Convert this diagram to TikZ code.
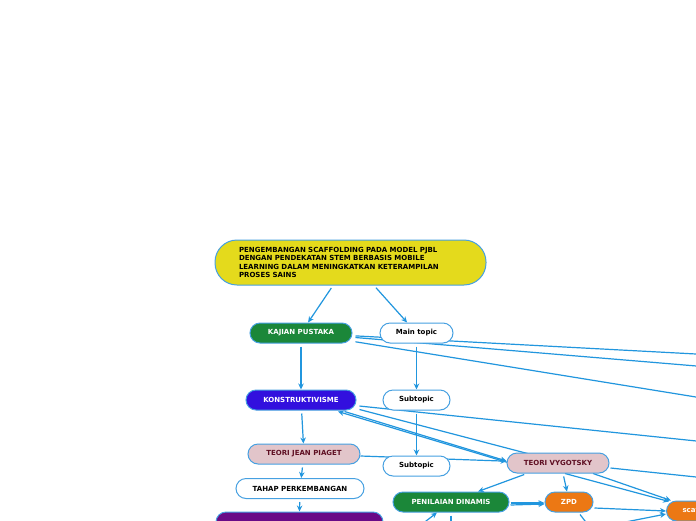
\documentclass[tikz,border=0pt]{standalone}
\usepackage{fontspec}
\setmainfont{DejaVu Sans}
\usetikzlibrary{arrows.meta,calc,backgrounds}
\definecolor{edgeblue}{RGB}{33,150,222}
\definecolor{bordblue}{RGB}{70,160,225}
\definecolor{ttlyellow}{RGB}{228,218,28}
\definecolor{nodegreen}{RGB}{27,135,57}
\definecolor{nodeviolet}{RGB}{50,16,222}
\definecolor{nodepink}{RGB}{226,197,202}
\definecolor{pinktext}{RGB}{95,15,35}
\definecolor{nodeorange}{RGB}{236,120,20}
\definecolor{nodepurple}{RGB}{105,10,135}
\tikzset{
  base/.style={draw=bordblue, line width=1pt, rounded corners=10pt, minimum height=20pt, inner sep=0pt, font=\fontsize{7}{8.4}\selectfont\bfseries},
  greenbox/.style={base, fill=nodegreen, text=white},
  violetbox/.style={base, fill=nodeviolet, text=white},
  orangebox/.style={base, fill=nodeorange, text=white},
  purplebox/.style={base, fill=nodepurple, text=white},
  whitebox/.style={base, fill=white, text=black},
  pinkbox/.style={base, fill=nodepink, text=pinktext},
  titlebox/.style={base, fill=ttlyellow, text=black, rounded corners=22pt, minimum height=45pt, text width=223pt, align=left, inner xsep=24pt},
  edge/.style={draw=edgeblue, line width=1.2pt, -{Stealth[length=6pt,width=5.5pt]}, shorten <=3pt},
  link/.style={draw=edgeblue, line width=1.2pt, shorten <=3pt},
}
\begin{document}
\begin{tikzpicture}[x=1pt,y=-1pt]
\useasboundingbox (0,0) rectangle (696,520);

\node[titlebox] (t) at (350.5,262.5) {PENGEMBANGAN SCAFFOLDING PADA MODEL PJBL\\DENGAN PENDEKATAN STEM BERBASIS MOBILE\\LEARNING DALAM MENINGKATKAN KETERAMPILAN\\PROSES SAINS};
\node[greenbox, minimum width=102pt] (kp) at (301,333) {KAJIAN PUSTAKA};
\node[whitebox, minimum width=73pt] (mt) at (416.5,333) {Main topic};
\node[violetbox, minimum width=110pt] (ks) at (301,400) {KONSTRUKTIVISME};
\node[whitebox, minimum width=67pt] (s1) at (416.5,400) {Subtopic};
\node[pinkbox, minimum width=112pt] (pg) at (304,454) {TEORI JEAN PIAGET};
\node[whitebox, minimum width=67pt] (s2) at (416.5,466) {Subtopic};
\node[whitebox, minimum width=128pt] (tp) at (300,488.5) {TAHAP PERKEMBANGAN};
\node[purplebox, minimum width=167pt, minimum height=30pt] (pu) at (299.5,527) {};
\node[pinkbox, minimum width=102pt] (vg) at (558,463) {TEORI VYGOTSKY};
\node[greenbox, minimum width=116pt] (pd) at (451,502) {PENILAIAN DINAMIS};
\node[orangebox, minimum width=48pt] (zp) at (569,502) {ZPD};
\node[orangebox, anchor=west, inner xsep=16pt] (sc) at (666,511) {scaffolding};

\coordinate (o1) at (760,357.4);
\coordinate (o2) at (760,371.3);
\coordinate (o3) at (760,407.4);
\coordinate (o4) at (760,447.6);
\coordinate (o5) at (760,483.7);
\coordinate (b1) at (575,532);
\coordinate (b2) at (592,530);
\coordinate (b3) at (412,532);
\coordinate (b4) at (451,532);

\begin{scope}[on background layer]
\fill[white] (0,0) rectangle (696,520);
\draw[edge] ($(t.south)+(-17.5,0)$) -- (kp);
\draw[edge] ($(t.south)+(23.5,0)$) -- (mt);
\draw[edge] (kp) -- (ks);
\draw[edge] (mt) -- (s1);
\draw[edge] (s1) -- (s2);
\draw[edge] (ks) -- (pg);
\draw[edge] (pg) -- (tp);
\draw[edge] (tp) -- (pu.north);
\draw[edge, shorten <=0pt] (pg) -- (vg);
\draw[link] (kp) -- (o1);
\draw[link] (kp) -- (o2);
\draw[link] (kp) -- (o3);
\draw[link] (ks) -- (o4);
\draw[edge, shorten <=0pt] ($(ks.south east)+(-12,1)$) -- ($(vg.west)+(0,-2)$);
\draw[edge, shorten <=0pt] ($(vg.west)+(3,0)$) -- ($(ks.south)+(37,1)$);
\draw[link, shorten <=0pt] ($(ks.south east)+(3,-1)$) -- ($(vg.north)+(-19,4)$);
\draw[edge, shorten <=0pt] ($(vg.south)+(7,0)$) -- ($(sc.north west)+(3,1)$);
\draw[edge, shorten <=0pt] ($(vg.south)+(35,0)$) -- ($(sc.north west)+(5,0)$);
\draw[link, shorten <=0pt] ($(vg.east)+(1,5)$) -- (o5);
\draw[edge] ($(vg.south)+(-31,0)$) -- ($(pd.north)+(27,0)$);
\draw[edge] ($(vg.south)+(5,0)$) -- ($(zp.north)+(-2,0)$);
\draw[edge, shorten <=0pt] ($(pd.east)+(1,1)$) -- ($(zp.west)+(0,1)$);
\draw[edge, shorten <=0pt] ($(pd.east)+(1,3)$) -- ($(zp.west)+(0,2)$);
\draw[edge, shorten <=0pt] ($(zp.east)+(1,6)$) -- ($(sc.west)+(0,0)$);
\draw[edge, shorten <=0pt] (b1) -- ($(sc.west)+(0,3)$);
\draw[link, shorten <=0pt] ($(zp.south)+(11,2)$) -- (b2);
\draw[edge, shorten <=0pt] (b3) -- ($(pd.south)+(-14,0)$);
\draw[link, shorten <=0pt] ($(pd.south)+(0,3)$) -- (b4);
\end{scope}
\end{tikzpicture}
\end{document}
